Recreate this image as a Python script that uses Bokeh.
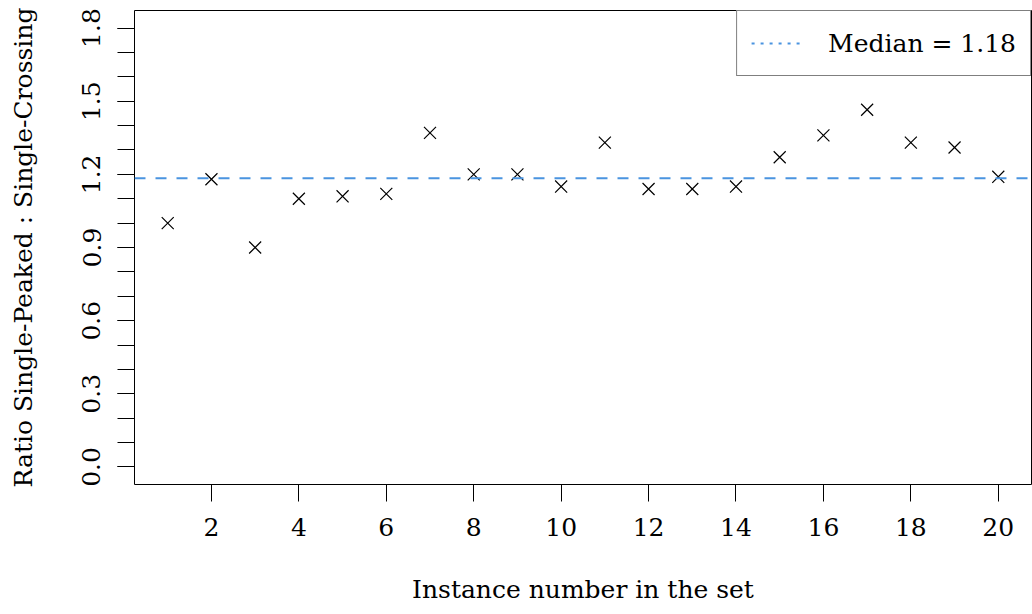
from bokeh.plotting import figure
from bokeh.models import Range1d, FixedTicker, Legend, LegendItem, Span, NumeralTickFormatter
from bokeh.embed import file_html
from bokeh.resources import INLINE

# ---- data ----
instances = [1, 2, 3, 4, 5, 6, 7, 8, 9, 10, 11, 12, 13, 14, 15, 16, 17, 18, 19, 20]
ratios = [1.00, 1.18, 0.90, 1.10, 1.11, 1.12, 1.37, 1.20, 1.20, 1.15,
          1.33, 1.14, 1.14, 1.15, 1.27, 1.36, 1.465, 1.33, 1.31, 1.19]
median_value = 1.184
median_label = "Median = 1.18"
x_ticks = [2, 4, 6, 8, 10, 12, 14, 16, 18, 20]
y_label_ticks = [0.0, 0.3, 0.6, 0.9, 1.2, 1.5, 1.8]
y_all_ticks = [0.0, 0.1, 0.2, 0.3, 0.4, 0.5, 0.6, 0.7, 0.8, 0.9,
               1.0, 1.1, 1.2, 1.3, 1.4, 1.5, 1.6, 1.7, 1.8]
x_title = "Instance number in the set"
y_title = "Ratio Single-Peaked : Single-Crossing"
legend_dummy = [float("nan")]

FONT = "DejaVu Serif"
FS = "25px"
BLUE = "#4a94e0"

p = figure(width=1032, height=614, output_backend="svg", toolbar_location=None,
           x_range=Range1d(0.24, 20.76), y_range=Range1d(-0.072, 1.872),
           min_border_left=134, min_border_right=1, min_border_top=10, min_border_bottom=130)
p.grid.visible = False
p.background_fill_color = "white"
p.border_fill_color = "white"
p.outline_line_color = "black"
p.outline_line_width = 1

median_line = Span(location=median_value, dimension="width", line_color=BLUE,
                   line_width=2, line_dash="11 10")
p.add_layout(median_line)

p.scatter(instances, ratios, marker="x", size=17, line_color="black", line_width=1.2)

legend_line = p.line(x=legend_dummy, y=legend_dummy, line_color=BLUE, line_width=2, line_dash="3 6")
legend = Legend(items=[LegendItem(label=median_label, renderers=[legend_line])],
                location="top_right", margin=0, padding=14, glyph_width=50, glyph_height=36,
                label_standoff=27,
                border_line_color="black", border_line_width=1, background_fill_color="white",
                background_fill_alpha=1.0, label_text_font=FONT, label_text_font_size=FS,
                label_text_color="black")
p.add_layout(legend)

for ax in (p.xaxis, p.yaxis):
    ax.axis_line_color = None
    ax.major_tick_in = 0
    ax.major_tick_out = 17
    ax.minor_tick_in = 0
    ax.major_tick_line_color = "black"
    ax.major_label_text_font = FONT
    ax.major_label_text_font_size = FS
    ax.major_label_text_color = "black"
    ax.axis_label_text_font = FONT
    ax.axis_label_text_font_size = FS
    ax.axis_label_text_font_style = "normal"
    ax.axis_label_text_color = "black"

p.xaxis.ticker = FixedTicker(ticks=x_ticks, minor_ticks=[])
p.xaxis.minor_tick_out = 0
p.xaxis.formatter = NumeralTickFormatter(format="0")
p.xaxis.major_label_standoff = 16
p.xaxis.axis_label = x_title
p.xaxis.axis_label_standoff = 36

p.yaxis.ticker = FixedTicker(ticks=y_label_ticks, minor_ticks=y_all_ticks)
p.yaxis.minor_tick_out = 17
p.yaxis.minor_tick_line_color = "black"
p.yaxis.formatter = NumeralTickFormatter(format="0.0")
p.yaxis.major_label_orientation = "parallel"
p.yaxis.major_label_standoff = 17
p.yaxis.axis_label = y_title
p.yaxis.axis_label_standoff = 42

open("out.html", "w").write(file_html(p, INLINE))
